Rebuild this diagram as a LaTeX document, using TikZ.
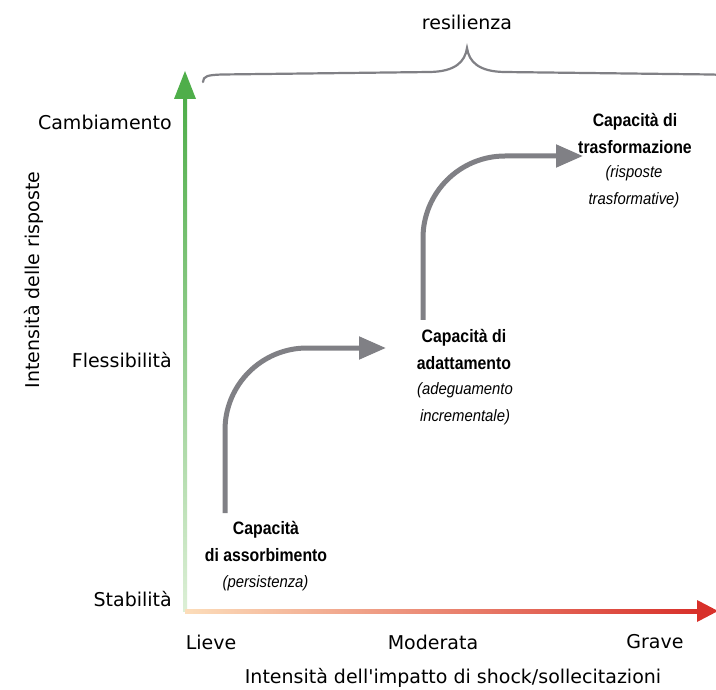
\documentclass[tikz,border=0pt]{standalone}
\usepackage{fontspec}
\setmainfont{DejaVu Sans}
\newfontfamily\regf{DejaVu Sans}
\newfontfamily\condb[FakeStretch=0.88]{Liberation Sans}
\newfontfamily\condi[FakeStretch=0.9]{Liberation Sans}
\usetikzlibrary{arrows.meta}
\definecolor{gr}{HTML}{808085}
\definecolor{axgreen}{HTML}{4FAE4A}
\definecolor{axgreenl}{HTML}{DCEFD6}
\definecolor{axred}{HTML}{D8302A}
\definecolor{axpeach}{HTML}{FCDDBA}
\tikzset{
  ticklab/.style={font=\regf\fontsize{19}{23}\selectfont, inner sep=0pt},
  boldlab/.style={font=\condb\bfseries\fontsize{18}{27}\selectfont, align=center, inner sep=0pt},
  itlab/.style={font=\condi\itshape\fontsize{16.5}{27}\selectfont, align=center, inner sep=0pt},
  garrow/.style={draw=gr, line width=5pt, rounded corners=82pt, -{Triangle[length=27pt,width=22pt]}},
  bracestyle/.style={draw=gr, line width=2.2pt, line cap=round}
}
\begin{document}
\begin{tikzpicture}[x=1pt,y=-1pt]
\useasboundingbox[fill=white] (0,0) rectangle (716,690);

% axes
\coordinate (origin) at (185,611);
\coordinate (yhead) at (185,99);
\coordinate (ytip) at (185,71);
\coordinate (xhead) at (697,611);
\coordinate (xtip) at (718,611);
\shade[bottom color=axgreenl, top color=axgreen] ([xshift=-2pt]origin) rectangle ([xshift=2pt]yhead);
\fill[axgreen] ([xshift=-11pt]yhead) -- (ytip) -- ([xshift=11pt]yhead) -- cycle;
\shade[left color=axpeach, right color=axred] ([yshift=-2pt]origin) rectangle ([yshift=2pt,xshift=1pt]xhead);
\fill[axred] ([yshift=-11pt]xhead) -- (xtip) -- ([yshift=11pt]xhead) -- cycle;

% brace
\draw[bracestyle] (203,82) .. controls (203,76) and (208,75) .. (222,74.5)
  -- (430,72) .. controls (455,71.5) and (465,62) .. (467,48)
  .. controls (469,62) and (479,71.5) .. (504,72)
  -- (712,74.5) .. controls (726,75) and (731,76) .. (731,82);
\node[ticklab] (res) at (467,22) {resilienza};

% y labels
\node[ticklab, anchor=mid east] (cambio) at (172,127) {Cambiamento};
\node[ticklab, anchor=mid east] (fless) at (172,365) {Flessibilità};
\node[ticklab, anchor=mid east] (stab) at (172,604) {Stabilità};
\node[ticklab, rotate=90] (ytitle) at (34,280) {Intensità delle risposte};

% x labels
\node[ticklab] (lieve) at (211,642) {Lieve};
\node[ticklab] (mod) at (433,642) {Moderata};
\node[ticklab] (grave) at (655,642) {Grave};
\node[ticklab] (xtitle) at (453,678) {Intensità dell'impatto di shock/sollecitazioni};

% capacity labels
\node[boldlab] (absorb) at (266,541) {Capacità\\di assorbimento};
\node[itlab] (absorbnote) at (265.5,583) {(persistenza)};
\node[boldlab] (adapt) at (464,349) {Capacità di\\adattamento};
\node[itlab] (adaptnote) at (465,403.5) {(adeguamento\\incrementale)};
\node[boldlab] (trasf) at (635,133) {Capacità di\\trasformazione};
\node[itlab] (trasfnote) at (634,186.5) {(risposte\\trasformative)};

% gray arrows
\coordinate (a1s) at (225,513);
\coordinate (a1e) at (386,348);
\coordinate (a2s) at (423,320);
\coordinate (a2e) at (583,156);
\draw[garrow] (a1s) |- (a1e);
\draw[garrow] (a2s) |- (a2e);
\end{tikzpicture}
\end{document}
